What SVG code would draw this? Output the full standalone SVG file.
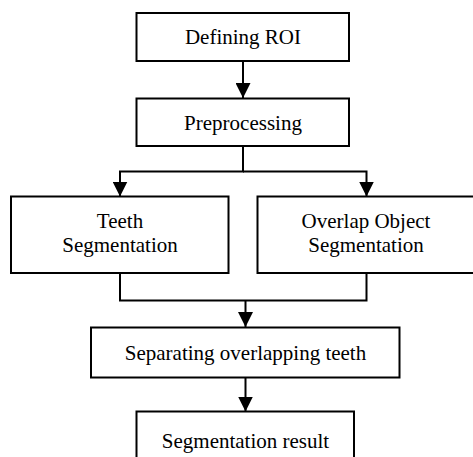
<svg xmlns="http://www.w3.org/2000/svg" width="473" height="457" viewBox="0 0 473 457">
<defs>
<marker id="ah" viewBox="0 0 15 15" markerWidth="15" markerHeight="15" refX="15" refY="7.5" orient="auto" markerUnits="userSpaceOnUse">
<path d="M0,0 L15,7.5 L0,15 Z" fill="#000"/>
</marker>
<style>
.box{fill:#fff;stroke:#000;stroke-width:2}
.t{font-family:'Liberation Serif','Times New Roman',Times,serif;font-size:21px;fill:#000;text-anchor:middle}
.c{fill:none;stroke:#000;stroke-width:2}
</style>
</defs>
<rect width="473" height="457" fill="#fff"/>
<g id="connectors">
<line class="c" x1="243" y1="61" x2="243" y2="98" marker-end="url(#ah)"/>
<polyline class="c" points="243,146 243,171.5 120,171.5 120,196.5" marker-end="url(#ah)"/>
<polyline class="c" points="243,171.5 366.5,171.5 366.5,196.5" marker-end="url(#ah)"/>
<polyline class="c" points="120,273 120,300.5 366.5,300.5 366.5,273"/>
<line class="c" x1="245.5" y1="300.5" x2="245.5" y2="327" marker-end="url(#ah)"/>
<line class="c" x1="245.5" y1="377.5" x2="245.5" y2="411.5" marker-end="url(#ah)"/>
</g>
<g id="n1"><rect class="box" x="136.5" y="13" width="212.5" height="48"/><text class="t" x="243" y="44.3">Defining ROI</text></g>
<g id="n2"><rect class="box" x="136.5" y="98.5" width="212.5" height="47.5"/><text class="t" x="243" y="129.5">Preprocessing</text></g>
<g id="n3"><rect class="box" x="11" y="196.5" width="217.5" height="76.5"/><text class="t" x="120" y="227.7">Teeth</text><text class="t" x="120" y="251.7">Segmentation</text></g>
<g id="n4"><rect class="box" x="257.5" y="196.5" width="220" height="76.5"/><text class="t" x="366" y="227.7">Overlap Object</text><text class="t" x="366" y="251.7">Segmentation</text></g>
<g id="n5"><rect class="box" x="91" y="327.5" width="308.5" height="50"/><text class="t" x="245.5" y="359.5">Separating overlapping teeth</text></g>
<g id="n6"><rect class="box" x="136.5" y="411.5" width="217.5" height="50"/><text class="t" x="245.5" y="447.5">Segmentation result</text></g>
</svg>
